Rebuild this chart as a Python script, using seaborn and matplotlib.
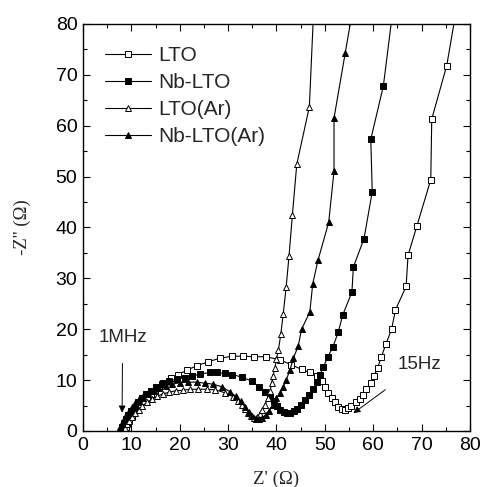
import matplotlib
matplotlib.use("Agg")
import matplotlib.pyplot as plt
import seaborn as sns
import pandas as pd

# Nyquist data: Z' (ohm) and -Z'' (ohm) for each electrode
lto_zre = [8.8, 9.2, 9.6, 10.1, 10.6, 11.2, 11.8, 12.5, 13.2, 14.0, 14.8, 15.7,
           16.6, 18.1, 19.7, 21.6, 23.5, 25.9, 28.3, 30.9, 33.1, 35.3, 37.8, 40.7,
           43.1, 45.2, 46.9, 48.4, 49.4, 50.0, 50.7, 51.4, 52.1, 52.8, 53.5, 54.2,
           54.8, 55.5, 56.4, 57.3, 57.9, 58.6, 59.5, 60.2, 60.9, 61.7, 62.6, 63.8,
           64.6, 66.8, 67.2, 69.0, 71.9, 72.1, 75.2, 77.4]
lto_zim = [0.8, 1.5, 2.2, 3.0, 3.7, 4.4, 5.1, 5.8, 6.5, 7.2, 7.9, 8.7,
           9.5, 10.4, 11.1, 12.0, 12.8, 13.6, 14.3, 14.7, 14.7, 14.6, 14.6, 14.0,
           13.0, 12.1, 11.5, 10.8, 9.8, 8.7, 7.4, 6.4, 5.6, 4.8, 4.3, 4.2,
           4.5, 5.0, 5.6, 6.2, 7.1, 8.2, 9.4, 10.8, 12.4, 14.6, 17.0, 20.0,
           23.8, 28.4, 34.5, 40.2, 49.4, 61.3, 71.8, 84.0]

nb_zre = [8.0, 8.4, 8.9, 9.4, 10.0, 10.7, 11.4, 12.2, 13.1, 14.1, 15.2, 16.4,
          17.8, 19.4, 21.1, 22.6, 24.3, 26.3, 27.8, 29.4, 30.9, 32.8, 34.9, 36.4,
          37.6, 38.6, 39.4, 40.1, 40.8, 41.5, 42.2, 42.9, 43.6, 44.3, 45.1, 45.9,
          46.7, 47.5, 48.3, 49.0, 49.7, 50.6, 51.7, 52.8, 53.7, 55.6, 55.9, 58.1,
          59.8, 59.5, 62.1, 64.1]
nb_zim = [0.8, 1.6, 2.4, 3.2, 4.0, 4.8, 5.6, 6.4, 7.2, 7.9, 8.6, 9.3,
          9.8, 10.2, 10.5, 10.8, 11.2, 11.5, 11.5, 11.3, 11.1, 10.6, 9.8, 8.7,
          7.7, 6.7, 5.8, 4.9, 4.2, 3.7, 3.5, 3.6, 3.9, 4.4, 5.2, 6.1,
          7.1, 8.2, 9.6, 11.0, 12.6, 14.5, 16.6, 19.5, 22.8, 27.3, 32.2, 37.8,
          47.0, 57.3, 67.8, 83.0]

ar_zre = [8.7, 9.1, 9.6, 10.2, 10.8, 11.5, 12.3, 13.2, 14.2, 15.3, 16.5, 17.8,
          19.2, 20.6, 22.1, 23.8, 25.6, 27.3, 29.4, 31.1, 32.1, 32.9, 33.6, 34.2,
          34.8, 35.4, 36.0, 36.6, 37.1, 37.6, 38.2, 38.7, 39.0, 39.3, 39.7, 40.0,
          40.4, 40.9, 41.4, 42.0, 42.6, 43.3, 44.2, 46.8, 47.6]
ar_zim = [0.6, 1.3, 2.0, 2.8, 3.5, 4.2, 4.9, 5.6, 6.2, 6.8, 7.3, 7.6,
          7.9, 8.0, 8.2, 8.2, 8.2, 8.1, 7.5, 6.7, 5.9, 5.1, 4.3, 3.5,
          2.9, 2.6, 2.8, 3.4, 4.2, 5.1, 6.4, 7.9, 9.4, 10.9, 12.4, 14.1,
          15.9, 19.0, 23.0, 28.2, 34.4, 42.5, 52.4, 63.7, 80.8]

nbar_zre = [7.6, 8.0, 8.4, 8.9, 9.5, 10.1, 10.8, 11.6, 12.5, 13.5, 14.6, 15.8,
            17.1, 18.5, 20.1, 21.8, 23.5, 25.2, 26.9, 28.7, 30.4, 31.6, 32.6, 33.5,
            34.3, 35.0, 35.7, 36.4, 37.1, 37.8, 38.5, 39.2, 40.0, 40.7, 41.4, 42.0,
            42.8, 43.5, 44.5, 45.2, 46.9, 47.5, 48.6, 50.8, 51.9, 51.9, 54.2, 55.8]
nbar_zim = [0.8, 1.5, 2.3, 3.1, 3.9, 4.7, 5.5, 6.2, 6.9, 7.5, 8.0, 8.5,
            8.9, 9.2, 9.5, 9.6, 9.6, 9.4, 9.2, 8.7, 7.7, 6.8, 5.8, 4.8,
            3.8, 3.0, 2.4, 2.3, 2.6, 3.2, 4.0, 5.1, 6.4, 7.4, 8.6, 10.0,
            12.0, 14.3, 16.7, 20.0, 23.4, 28.9, 33.6, 41.0, 51.1, 61.5, 74.2, 83.0]

series_names = ["LTO", "Nb-LTO", "LTO(Ar)", "Nb-LTO(Ar)"]
series_data = [(lto_zre, lto_zim), (nb_zre, nb_zim), (ar_zre, ar_zim), (nbar_zre, nbar_zim)]
series_markers = ["s", "s", "^", "^"]
series_faces = ["white", "black", "white", "black"]
series_sizes = [4.0, 4.0, 5.0, 5.0]

x_ticks = [0, 10, 20, 30, 40, 50, 60, 70, 80]
y_ticks = [0, 10, 20, 30, 40, 50, 60, 70, 80]

sns.set_theme(style="ticks")
plt.rcParams["font.family"] = ["Liberation Sans", "DejaVu Sans"]

fig = plt.figure(figsize=(4.85, 4.87), dpi=100)
ax = fig.add_axes([0.171, 0.115, 0.798, 0.836])

for name, (zre, zim), mk, face, ms in zip(series_names, series_data, series_markers,
                                           series_faces, series_sizes):
    df = pd.DataFrame({"zre": zre, "zim": zim})
    sns.lineplot(data=df, x="zre", y="zim", ax=ax, sort=False, estimator=None,
                 color="black", linewidth=0.8, marker=mk, markersize=ms,
                 markerfacecolor=face, markeredgecolor="black", markeredgewidth=0.7,
                 label=name)

ax.set_xlim(0, 80)
ax.set_ylim(0, 80)
ax.set_xticks(x_ticks)
ax.set_yticks(y_ticks)
ax.set_xticks(range(5, 80, 10), minor=True)
ax.set_yticks(range(5, 80, 10), minor=True)
ax.tick_params(which="both", direction="in", top=True, right=True, width=0.8,
               colors="black", labelsize=14, pad=4)
ax.tick_params(which="major", length=5)
ax.tick_params(which="minor", length=3)
for s in ax.spines.values():
    s.set_linewidth(1.0)
    s.set_color("black")

ax.set_xlabel("Z' (\u03a9)", family=["Liberation Serif", "DejaVu Serif"], fontsize=13.5)
ax.set_ylabel("-Z'' (\u03a9)", family=["Liberation Serif", "DejaVu Serif"], fontsize=13.5)
ax.xaxis.set_label_coords(0.5, -0.098)
ax.yaxis.set_label_coords(-0.135, 0.5)

leg = ax.legend(loc="upper left", bbox_to_anchor=(0.035, 0.965), frameon=False,
                fontsize=15, handlelength=2.2, handletextpad=0.35, labelspacing=0.38,
                borderaxespad=0.0)

ax.annotate("1MHz", xy=(8.1, 3.6), xytext=(8.2, 18.3), ha="center", va="center",
            fontsize=13.5,
            arrowprops=dict(arrowstyle="-|>", color="black", lw=0.7,
                            mutation_scale=10, shrinkA=10, shrinkB=0))
ax.annotate("15Hz", xy=(55.9, 3.5), xytext=(69.5, 13.0), ha="center", va="center",
            fontsize=13.5,
            arrowprops=dict(arrowstyle="-|>", color="black", lw=0.7,
                            mutation_scale=10, shrinkA=16, shrinkB=0))

fig.savefig("out.png", dpi=100)
